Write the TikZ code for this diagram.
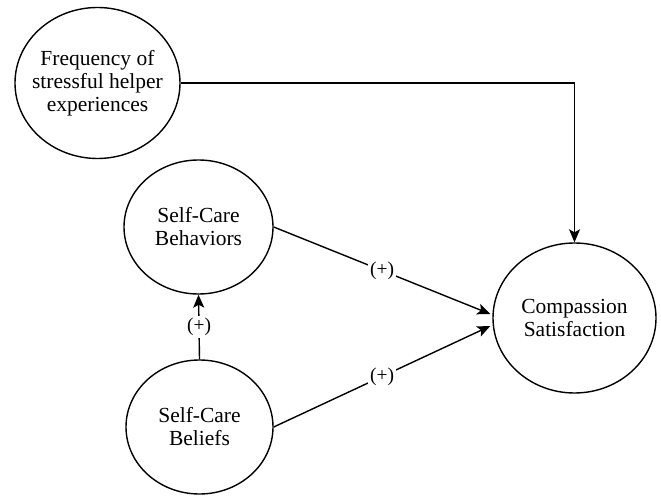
\documentclass[tikz,border=0pt]{standalone}
\usepackage{fontspec}
\setmainfont{Liberation Serif}
\usetikzlibrary{shapes.geometric,arrows.meta,calc}
\begin{document}
\begin{tikzpicture}[x=1pt,y=-1pt,
  var/.style={draw,ellipse,line width=1.4pt,inner sep=0pt},
  vtext/.style={label={[align=center,font=\fontsize{21.5}{23}\selectfont]center:#1}},
  conn/.style={line width=1.4pt,-{Stealth[length=13pt,width=11pt,inset=3pt]}},
  sign/.style={fill=white,inner sep=2pt,font=\fontsize{19.5}{21}\selectfont}]
\useasboundingbox (0,0) rectangle (661,497);
\node[var,minimum width=165pt,minimum height=151pt,vtext={Frequency of\\stressful helper\\experiences}] (freq) at (97.5,83) {};
\node[var,minimum width=149pt,minimum height=134pt,vtext={Self-Care\\Behaviors}] (beh) at (198.5,227) {};
\node[var,minimum width=147pt,minimum height=134pt,vtext={Self-Care\\Beliefs}] (bel) at (199.5,427) {};
\node[var,minimum width=163pt,minimum height=150pt,vtext={Compassion\\Satisfaction}] (comp) at (574.5,318) {};
\coordinate (inA) at ($(comp.west)+(-2,-4)$);
\coordinate (inB) at ($(comp.west)+(-2,8)$);
\draw[conn] (freq.east) -| (comp.north);
\draw[conn] (beh.east) -- node[sign] {(+)} (inA);
\draw[conn] (bel.east) -- node[sign] {(+)} (inB);
\draw[conn] (bel.north) -- node[sign] {(+)} (beh.south);
\end{tikzpicture}
\end{document}
